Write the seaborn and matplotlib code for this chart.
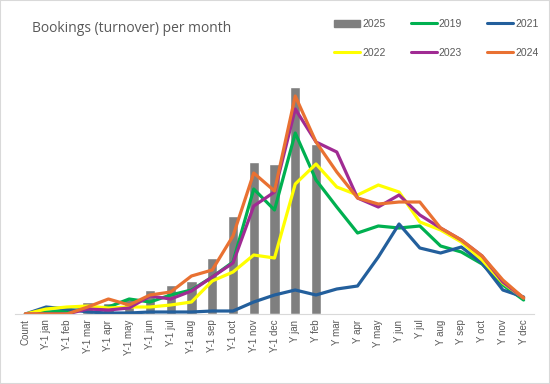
import numpy as np
import pandas as pd
import matplotlib
matplotlib.use("Agg")
import matplotlib.pyplot as plt
import seaborn as sns
from matplotlib.patches import Patch, Rectangle
from matplotlib.lines import Line2D

# categories on the x axis
months = ["Count",
          "Y-1 jan", "Y-1 feb", "Y-1 mar", "Y-1 apr", "Y-1 may", "Y-1 jun",
          "Y-1 jul", "Y-1 aug", "Y-1 sep", "Y-1 oct", "Y-1 nov", "Y-1 dec",
          "Y jan", "Y feb", "Y mar", "Y apr", "Y may", "Y jun",
          "Y jul", "Y aug", "Y sep", "Y oct", "Y nov", "Y dec"]

# 2025 only known up to Y feb
bookings_2025 = [0, 0, 0, 12, 11, 15, 24, 29, 33, 56, 98, 152, 150, 227, 170,
                 np.nan, np.nan, np.nan, np.nan, np.nan, np.nan, np.nan, np.nan, np.nan, np.nan]
bookings_2019 = [0, 2, 3, 5, 7, 15, 12, 19, 24, 37, 52, 125, 104, 181, 134,
                 107, 81, 88, 86, 88, 68, 62, 50, 29, 14]
bookings_2021 = [0, 7, 5, 2, 1, 1, 2, 2, 2, 3, 3, 12, 19, 24, 19,
                 25, 28, 57, 90, 66, 61, 67, 51, 24, 17]
bookings_2022 = [0, 5, 7, 8, 6, 7, 7, 9, 12, 33, 42, 59, 56, 130, 150,
                 127, 119, 129, 122, 92, 84, 72, 54, 31, 16]
bookings_2023 = [0, 0, 0, 5, 4, 6, 18, 15, 23, 37, 51, 108, 122, 205, 172,
                 162, 116, 107, 119, 99, 86, 74, 58, 32, 16]
bookings_2024 = [0, 0, 0, 7, 15, 9, 19, 22, 38, 44, 78, 141, 123, 218, 172,
                 142, 116, 110, 112, 112, 86, 74, 58, 34, 16]

years = ["2019", "2021", "2022", "2023", "2024"]
palette = {"2019": "#00b050", "2021": "#235f9c", "2022": "#ffff00",
           "2023": "#a02b93", "2024": "#e97132"}
bar_color = "#7f7f7f"
text_color = "#595959"

sns.set_style("white")
plt.rcParams["font.family"] = ["Liberation Sans", "DejaVu Sans"]

fig = plt.figure(figsize=(5.5, 3.84), dpi=100)
ax = fig.add_axes([15 / 550, 1 - 314 / 384, 519 / 550, 254 / 384])

bar_df = pd.DataFrame({"month": months, "value": bookings_2025})
sns.barplot(data=bar_df, x="month", y="value", order=months, color=bar_color,
            saturation=1, width=0.5, errorbar=None, ax=ax)

line_df = pd.DataFrame({
    "pos": np.tile(np.arange(len(months)), len(years)),
    "year": np.repeat(years, len(months)),
    "value": np.concatenate([bookings_2019, bookings_2021, bookings_2022,
                             bookings_2023, bookings_2024]),
})
sns.lineplot(data=line_df, x="pos", y="value", hue="year", hue_order=years,
             palette=palette, linewidth=2.3, legend=False, ax=ax)

ax.set_xlim(-0.5, len(months) - 0.5)
ax.set_ylim(0, 254)
ax.set_xticks(np.arange(len(months)))
ax.set_xticklabels(months, rotation=90, fontsize=7, color=text_color)
ax.tick_params(axis="x", length=0, pad=4)
ax.set_yticks([])
ax.set_xlabel("")
ax.set_ylabel("")
for side in ["top", "right", "left"]:
    ax.spines[side].set_visible(False)
ax.spines["bottom"].set_color("#d9d9d9")
ax.spines["bottom"].set_linewidth(0.8)

fig.text(32 / 550, 1 - 28 / 384, "Bookings (turnover) per month",
         fontsize=10, color=text_color, va="center", ha="left",
         family=["Open Sans", "DejaVu Sans"])

# legend: 2 rows x 3 columns (filled column by column)
handles = {"2025": Patch(color=bar_color)}
for y in years:
    handles[y] = Line2D([], [], color=palette[y], linewidth=2.2)
leg_order = ["2025", "2022", "2019", "2023", "2021", "2024"]
fig.legend([handles[k] for k in leg_order], leg_order, ncol=3, loc="upper left",
           bbox_to_anchor=(334 / 550, 1 - 19 / 384), frameon=False, fontsize=7.5,
           labelcolor=text_color, handlelength=2.5, handletextpad=0.2,
           columnspacing=2.4, labelspacing=1.8, borderpad=0, borderaxespad=0)

fig.patches.append(Rectangle((0, 0), 1, 1, transform=fig.transFigure, fill=False,
                             edgecolor="#d9d9d9", linewidth=1.5))

fig.savefig("out.png", dpi=100)
